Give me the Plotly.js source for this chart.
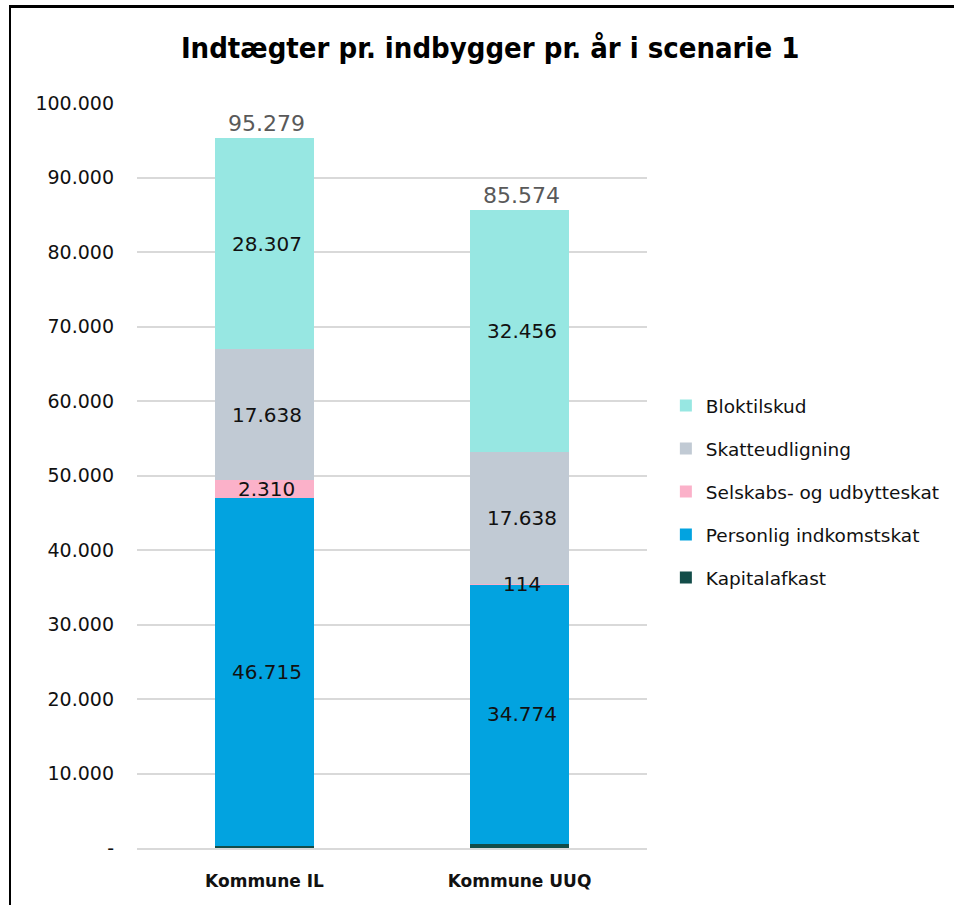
<!DOCTYPE html>
<html>
<head>
<meta charset="utf-8">
<script src="https://cdn.plot.ly/plotly-3.0.1.min.js"></script>
<style>
  html, body { margin: 0; padding: 0; background: #fff; }
  #wrap { position: relative; width: 961px; height: 905px; }
  #chart { position: absolute; left: 0; top: 0; width: 961px; height: 905px; }
  #frame { position: absolute; left: 9px; top: 5px; width: 943px; height: 900px;
           border-left: 2px solid #000; border-top: 3px solid #000; pointer-events: none; }
</style>
</head>
<body>
<div id="wrap">
  <div id="chart"></div>
  <div id="frame"></div>
</div>
<script>
const categories = ["Kommune IL", "Kommune UUQ"];
const seriesNames = ["Kapitalafkast", "Personlig indkomstskat", "Selskabs- og udbytteskat", "Skatteudligning", "Bloktilskud"];
const kapitalafkast = [309, 592];
const personligIndkomstskat = [46715, 34774];
const selskabsskat = [2310, 114];
const skatteudligning = [17638, 17638];
const bloktilskud = [28307, 32456];
const showLabel = [
  [false, false],
  [true, true],
  [true, true],
  [true, true],
  [true, true]
];
const tickVals = [0, 10000, 20000, 30000, 40000, 50000, 60000, 70000, 80000, 90000, 100000];
const tickText = ["-", "10.000", "20.000", "30.000", "40.000", "50.000", "60.000", "70.000", "80.000", "90.000", "100.000"];
const colors = ["#134D49", "#02A3E0", "#FBB1C9", "#C1CAD4", "#97E7E2"];

const series = [kapitalafkast, personligIndkomstskat, selskabsskat, skatteudligning, bloktilskud];

function fmt(v) {
  return String(v).replace(/\B(?=(\d{3})+(?!\d))/g, ".");
}

const traces = series.map((vals, i) => ({
  type: "bar",
  name: seriesNames[i],
  x: categories,
  y: vals,
  marker: { color: colors[i], line: { width: 0 } },
  legendgroup: "g" + i,
  legendrank: 1000 - i,
  hoverinfo: "name+y",
  textposition: "none"
}));

const annotations = [];
categories.forEach((cat, c) => {
  let base = 0;
  series.forEach((vals, i) => {
    const v = vals[c];
    if (showLabel[i][c]) {
      annotations.push({
        x: cat, y: base + v / 2, xref: "x", yref: "y",
        text: fmt(v), showarrow: false,
        font: { family: "DejaVu Sans, Open Sans, sans-serif", size: 20, color: "#111" },
        yanchor: "middle", xshift: 2
      });
    }
    base += v;
  });
  annotations.push({
    x: cat, y: base, xref: "x", yref: "y",
    text: fmt(base), showarrow: false,
    font: { family: "DejaVu Sans, Open Sans, sans-serif", size: 22, color: "#595959" },
    yanchor: "bottom", yshift: 0, xshift: 2
  });
});

const layout = {
  width: 961, height: 905,
  margin: { l: 137, r: 314, t: 103, b: 57 },
  paper_bgcolor: "#fff", plot_bgcolor: "#fff",
  barmode: "stack",
  bargap: 0.61,
  separators: ",.",
  title: {
    text: "<b>Indtægter pr. indbygger pr. år i scenarie 1</b>",
    font: { family: "DejaVu Sans Condensed, DejaVu Sans, sans-serif", size: 29, color: "#000" },
    x: 0.51, xanchor: "center", y: 0.947, yanchor: "middle"
  },
  xaxis: {
    type: "category",
    showgrid: false,
    showline: true, linecolor: "#d9d9d9", linewidth: 2,
    ticks: "",
    ticklabelstandoff: 17,
    tickfont: { family: "DejaVu Sans, Open Sans, sans-serif", size: 17, color: "#111", weight: "bold" }
  },
  yaxis: {
    range: [0, 100000],
    tickvals: tickVals, ticktext: tickText,
    showgrid: true, gridcolor: "#d9d9d9", gridwidth: 2,
    zeroline: false, showline: false, ticks: "",
    ticklabelstandoff: 22,
    tickfont: { family: "DejaVu Sans, Open Sans, sans-serif", size: 19, color: "#111" }
  },
  legend: {
    x: 1.037, xanchor: "left", y: 0.478, yanchor: "middle",
    traceorder: "grouped",
    tracegroupgap: 16,
    font: { family: "DejaVu Sans, Open Sans, sans-serif", size: 18.5, color: "#111" },
    bgcolor: "rgba(0,0,0,0)"
  },
  annotations: annotations,
  showlegend: true
};

Plotly.newPlot("chart", traces, layout, { displayModeBar: false, staticPlot: true });
</script>
</body>
</html>
